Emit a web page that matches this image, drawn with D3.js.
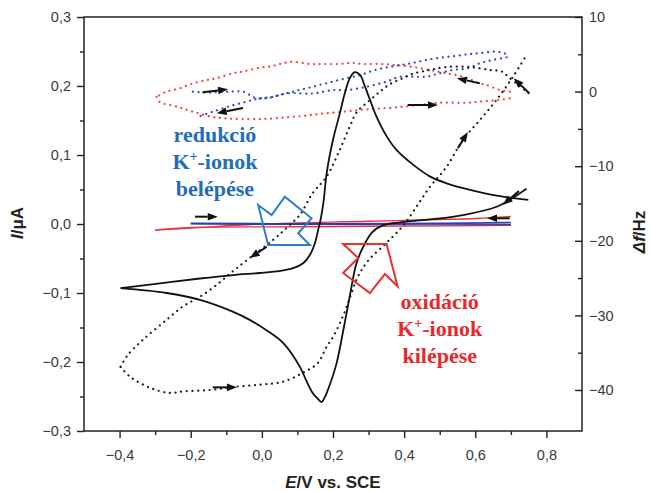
<!DOCTYPE html>
<html>
<head>
<meta charset="utf-8">
<script src="https://cdn.jsdelivr.net/npm/d3@7"></script>
<style>
  body { margin: 0; background: #fff; }
  text { font-family: "Liberation Sans", Arial, sans-serif; }
</style>
</head>
<body>
<div id="chart"></div>
<script>
// ---- data (E in V, I in uA, df in Hz) ----
// black CV, forward and reverse scan (left axis)
var cvForward = [[-0.397,-0.093],[-0.315,-0.088],[-0.174,-0.079],[-0.081,-0.074],[-0.006,-0.071],[0.051,-0.068],
  [0.088,-0.064],[0.116,-0.057],[0.135,-0.045],[0.149,-0.028],[0.158,-0.009],[0.165,0.006],[0.174,0.035],
  [0.182,0.073],[0.200,0.122],[0.219,0.160],[0.233,0.189],[0.247,0.211],[0.261,0.220],[0.276,0.216],
  [0.290,0.199],[0.304,0.180],[0.322,0.156],[0.351,0.127],[0.379,0.107],[0.425,0.086],[0.472,0.069],
  [0.519,0.059],[0.566,0.052],[0.660,0.041],[0.749,0.035]];
var cvReverse = [[0.744,0.051],[0.700,0.036],[0.660,0.025],[0.566,0.013],[0.480,0.007],[0.400,0.003],
  [0.340,-0.002],[0.310,-0.012],[0.285,-0.033],[0.266,-0.057],[0.247,-0.105],[0.229,-0.154],[0.210,-0.202],
  [0.191,-0.233],[0.177,-0.251],[0.168,-0.258],[0.155,-0.252],[0.143,-0.245],[0.124,-0.226],[0.107,-0.207],
  [0.059,-0.172],[0.013,-0.154],[-0.034,-0.139],[-0.082,-0.127],[-0.174,-0.110],[-0.268,-0.100],[-0.397,-0.093]];

// red and blue CVs (almost flat, left axis)
var redCvForward = [[-0.30,-0.009],[-0.20,-0.006],[0.0,0.000],[0.3,0.004],[0.6,0.008],[0.70,0.011]];
var redCvReverse = [[0.70,-0.002],[0.4,-0.003],[0.1,-0.004],[-0.2,-0.005],[-0.30,-0.009]];
var blueCvForward = [[-0.20,0.001],[0.2,0.000],[0.5,0.001],[0.70,0.002]];
var blueCvReverse = [[0.70,-0.001],[0.3,-0.001],[-0.20,0.000]];

// frequency change curves (right axis)
var dfBlackForward = [[-0.397,-36.9],[-0.371,-38.2],[-0.315,-39.7],[-0.259,-40.4],[-0.222,-40.2],[-0.146,-40.0],
  [-0.082,-39.6],[-0.006,-39.3],[0.059,-38.9],[0.115,-37.7],[0.157,-36.4],[0.182,-34.2],[0.200,-32.9],
  [0.229,-30.0],[0.250,-27.3],[0.270,-24.8],[0.300,-22.6],[0.350,-20.3],[0.400,-17.8],[0.435,-15.4],
  [0.472,-12.8],[0.519,-10.1],[0.565,-6.5],[0.613,-3.8],[0.660,-1.1],[0.706,2.0],[0.744,4.9]];
var dfBlackReverse = [[0.750,-0.2],[0.697,1.8],[0.674,2.7],[0.641,2.9],[0.585,3.3],[0.519,3.3],[0.472,2.9],
  [0.425,2.4],[0.396,1.8],[0.360,1.0],[0.332,0.0],[0.300,-1.3],[0.266,-2.8],[0.247,-4.7],[0.219,-7.8],
  [0.182,-11.4],[0.143,-13.6],[0.107,-16.5],[0.069,-18.3],[0.031,-19.9],[-0.034,-22.3],[-0.082,-24.1],
  [-0.127,-25.9],[-0.174,-27.5],[-0.222,-28.8],[-0.268,-30.6],[-0.335,-33.3],[-0.380,-35.5],[-0.397,-36.9]];
var dfRedForward = [[-0.296,-0.7],[-0.287,-1.4],[-0.240,-2.0],[-0.194,-2.7],[-0.138,-3.4],[-0.099,-3.6],
  [-0.015,-3.7],[0.031,-3.6],[0.069,-3.45],[0.107,-3.3],[0.143,-3.1],[0.182,-2.9],[0.228,-2.7],[0.266,-2.5],
  [0.304,-2.35],[0.340,-2.25],[0.379,-2.1],[0.444,-1.8],[0.500,-1.5],[0.576,-1.5],[0.613,-1.35],[0.641,-1.2],
  [0.669,-1.1],[0.697,-0.9]];
var dfRedReverse = [[0.697,0.0],[0.669,0.2],[0.631,0.9],[0.613,1.1],[0.565,2.0],[0.514,2.5],[0.472,2.9],
  [0.425,3.3],[0.379,3.55],[0.332,3.7],[0.284,3.7],[0.252,3.85],[0.219,3.7],[0.171,3.7],[0.135,3.7],
  [0.087,4.0],[0.059,3.8],[0.027,3.4],[-0.006,3.2],[-0.053,2.7],[-0.082,2.45],[-0.127,1.8],[-0.155,1.55],
  [-0.194,1.1],[-0.230,0.45],[-0.268,0.0],[-0.296,-0.7]];
var dfBlueForward = [[-0.194,0.0],[-0.155,-0.15],[-0.118,-0.05],[-0.082,0.0],[-0.053,0.0],[-0.034,-0.45],
  [-0.015,-0.9],[0.013,-0.9],[0.051,-0.45],[0.087,0.0],[0.126,0.45],[0.163,0.9],[0.200,1.35],[0.238,1.8],
  [0.276,2.2],[0.312,2.8],[0.351,3.25],[0.388,3.55],[0.425,3.85],[0.463,4.25],[0.509,4.6],[0.547,4.8],
  [0.585,5.05],[0.613,5.15],[0.650,5.35],[0.678,5.2],[0.692,4.9]];
var dfBlueReverse = [[0.688,4.6],[0.650,4.25],[0.613,3.8],[0.576,3.1],[0.537,2.9],[0.500,2.45],[0.463,2.0],
  [0.425,2.0],[0.388,2.0],[0.351,1.35],[0.294,0.65],[0.238,0.2],[0.200,0.2],[0.143,-0.25],[0.069,-0.25],
  [0.031,-0.7],[-0.006,-0.9],[-0.043,-1.35],[-0.090,-1.95],[-0.138,-2.7],[-0.184,-3.45]];

// scan direction arrows [E1, y1, E2, y2], tail -> head
var arrowsCurrent = [[-0.188,0.0106,-0.124,0.0106],[0.697,0.0083,0.633,0.0083],[0.7225,0.0478,0.6775,0.0275]];
var arrowsFreq = [[-0.138,-39.65,-0.070,-39.65],[0.014,-20.8,-0.034,-22.3],[0.551,-7.6,0.579,-5.4],
  [0.751,-0.2,0.708,1.8],[0.410,-1.8,0.495,-1.8],[0.613,1.1,0.548,1.8],[-0.167,-0.1,-0.095,0.3],
  [-0.053,-2.2,-0.127,-2.9]];

// hollow annotation arrows (left axis units)
var blueShape = [[-0.0104,0.0275],[0.0273,0.0130],[0.0647,0.0396],[0.1397,0.0083],[0.1021,-0.0135],[0.1349,-0.0304],[0.0177,-0.0304]];
var redShape = [[0.2286,-0.0290],[0.3506,-0.0290],[0.3815,-0.0903],[0.3458,-0.0725],[0.3036,-0.1000],[0.2286,-0.0710],[0.2707,-0.0493]];
var blueNote = ["redukció", "K+-ionok", "belépése"];
var redNote = ["oxidáció", "K+-ionok", "kilépése"];

// tick values
var xTicks = [-0.4,-0.2,0.0,0.2,0.4,0.6,0.8];
var xMinor = [-0.3,-0.1,0.1,0.3,0.5,0.7];
var iTicks = [-0.3,-0.2,-0.1,0.0,0.1,0.2,0.3];
var iMinor = [-0.25,-0.15,-0.05,0.05,0.15,0.25];
var fTicks = [10,0,-10,-20,-30,-40];
var fMinor = [5,-5,-15,-25,-35];

// ---- chart ----
var margin = {top: 17, right: 68, bottom: 61, left: 84},
    width = 650 - margin.left - margin.right,
    height = 492 - margin.top - margin.bottom;

var svg = d3.select("#chart")
  .append("svg")
    .attr("width", 650)
    .attr("height", 492)
  .append("g")
    .attr("transform", "translate(" + margin.left + "," + margin.top + ")");

var x = d3.scaleLinear().domain([-0.5, 0.9]).range([0, width]);
var yI = d3.scaleLinear().domain([-0.3, 0.3]).range([height, 0]);
var yF = d3.scaleLinear().domain([-45.5, 10]).range([height, 0]);

var loc = d3.formatLocale({decimal: ",", thousands: ".", grouping: [3], currency: ["", ""], minus: "\u2212"});
var fmt1 = loc.format(".1f"), fmt0 = loc.format("d");

var lineI = d3.line().x(function(d) { return x(d[0]); }).y(function(d) { return yI(d[1]); }).curve(d3.curveCatmullRom.alpha(0.5));
var lineF = d3.line().x(function(d) { return x(d[0]); }).y(function(d) { return yF(d[1]); }).curve(d3.curveCatmullRom.alpha(0.5));

// flat CVs
[[redCvForward, "#e8333a", 1.3], [redCvReverse, "#e8333a", 1.3]].forEach(function(s) {
  svg.append("path").attr("d", lineI(s[0])).attr("fill", "none").attr("stroke", s[1]).attr("stroke-width", s[2]);
});
[[blueCvForward, "#2b3fb0", 1.8], [blueCvReverse, "#2b3fb0", 1.2]].forEach(function(s) {
  svg.append("path").attr("d", lineI(s[0])).attr("fill", "none").attr("stroke", s[1]).attr("stroke-width", s[2]);
});

// dotted frequency curves
[[dfRedForward, "#f04848"], [dfRedReverse, "#f04848"],
 [dfBlueForward, "#3a4cc4"], [dfBlueReverse, "#3a4cc4"],
 [dfBlackForward, "#222"], [dfBlackReverse, "#222"]].forEach(function(s) {
  svg.append("path").attr("d", lineF(s[0]))
    .attr("fill", "none").attr("stroke", s[1])
    .attr("stroke-width", 2.2).attr("stroke-linecap", "round")
    .attr("stroke-dasharray", "0.1,5.6");
});

// black CV
[cvForward, cvReverse].forEach(function(s) {
  svg.append("path").attr("d", lineI(s)).attr("fill", "none").attr("stroke", "#111").attr("stroke-width", 1.8);
});

// arrows
function arrow(x1, y1, x2, y2) {
  var a = Math.atan2(y2 - y1, x2 - x1), hl = 10, hw = 3.8;
  var bx = x2 - hl * Math.cos(a), by = y2 - hl * Math.sin(a);
  svg.append("line").attr("x1", x1).attr("y1", y1).attr("x2", bx).attr("y2", by)
    .attr("stroke", "#111").attr("stroke-width", 2);
  svg.append("path")
    .attr("d", "M" + x2 + "," + y2 + "L" + (bx + hw * Math.sin(a)) + "," + (by - hw * Math.cos(a)) +
               "L" + (bx - hw * Math.sin(a)) + "," + (by + hw * Math.cos(a)) + "Z")
    .attr("fill", "#111");
}
arrowsCurrent.forEach(function(d) { arrow(x(d[0]), yI(d[1]), x(d[2]), yI(d[3])); });
arrowsFreq.forEach(function(d) { arrow(x(d[0]), yF(d[1]), x(d[2]), yF(d[3])); });

// hollow annotation arrows
[[blueShape, "#2f7bcc"], [redShape, "#e8302f"]].forEach(function(s) {
  svg.append("polygon")
    .attr("points", s[0].map(function(p) { return x(p[0]) + "," + yI(p[1]); }).join(" "))
    .attr("fill", "none").attr("stroke", s[1]).attr("stroke-width", 2).attr("stroke-linejoin", "miter");
});

// notes
function note(lines, e, i0, color) {
  var t = svg.append("text")
    .attr("x", x(e)).attr("y", yI(i0))
    .attr("text-anchor", "middle")
    .style("font-family", "'Liberation Serif', 'Times New Roman', serif")
    .style("font-weight", "bold").style("font-size", "22px")
    .attr("fill", color);
  lines.forEach(function(l, k) {
    var dy = k === 0 ? 0 : 27;
    if (l.indexOf("K+") === 0) {
      t.append("tspan").attr("x", x(e)).attr("dy", dy).text("K");
      t.append("tspan").attr("dy", -8).style("font-size", "14px").text("+");
      t.append("tspan").attr("dy", 8).text(l.slice(2));
    } else {
      t.append("tspan").attr("x", x(e)).attr("dy", dy).text(l);
    }
  });
}
note(blueNote, -0.132, 0.1193, "#1f6dbb");
note(redNote, 0.500, -0.1232, "#e8282d");

// frame
svg.append("rect").attr("width", width).attr("height", height)
  .attr("fill", "none").attr("stroke", "#222").attr("stroke-width", 1.5);

// axes
function styleAxis(g) {
  g.select(".domain").remove();
  g.selectAll("line").attr("stroke", "#222").attr("stroke-width", 1.4);
  g.selectAll("text").style("font-size", "14.5px").attr("fill", "#3a3a3a")
    .style("font-family", "'Liberation Sans', Arial, sans-serif");
}

svg.append("g").attr("transform", "translate(0," + height + ")")
  .call(d3.axisBottom(x).tickValues(xTicks).tickFormat(fmt1).tickSize(7).tickPadding(12))
  .call(styleAxis);
svg.append("g").attr("transform", "translate(0," + height + ")")
  .call(d3.axisBottom(x).tickValues(xMinor).tickFormat("").tickSize(4))
  .call(styleAxis);

svg.append("g")
  .call(d3.axisLeft(yI).tickValues(iTicks).tickFormat(fmt1).tickSize(7).tickPadding(6))
  .call(styleAxis);
svg.append("g")
  .call(d3.axisLeft(yI).tickValues(iMinor).tickFormat("").tickSize(4))
  .call(styleAxis);

svg.append("g").attr("transform", "translate(" + width + ",0)")
  .call(d3.axisRight(yF).tickValues(fTicks).tickFormat(fmt0).tickSize(-7).tickPadding(7))
  .call(styleAxis);
svg.append("g").attr("transform", "translate(" + width + ",0)")
  .call(d3.axisRight(yF).tickValues(fMinor).tickFormat("").tickSize(-4))
  .call(styleAxis);

// axis titles
var xt = svg.append("text")
  .attr("x", width / 2).attr("y", height + 57)
  .attr("text-anchor", "middle")
  .style("font-weight", "bold").style("font-size", "17px").attr("fill", "#222");
xt.append("tspan").style("font-style", "italic").text("E");
xt.append("tspan").text("/V vs. SCE");

var yt = svg.append("text")
  .attr("transform", "translate(-61," + (height / 2 - 1) + ") rotate(-90)")
  .attr("text-anchor", "middle")
  .style("font-weight", "bold").style("font-size", "17px").attr("fill", "#222");
yt.append("tspan").style("font-style", "italic").text("I");
yt.append("tspan").text("/\u03bcA");

var ft = svg.append("text")
  .attr("transform", "translate(" + (width + 63) + "," + (height / 2 + 8) + ") rotate(-90)")
  .attr("text-anchor", "middle")
  .style("font-weight", "bold").style("font-size", "17px").attr("fill", "#222");
ft.append("tspan").style("font-style", "italic").text("\u0394f");
ft.append("tspan").text("/Hz");
</script>
</body>
</html>
